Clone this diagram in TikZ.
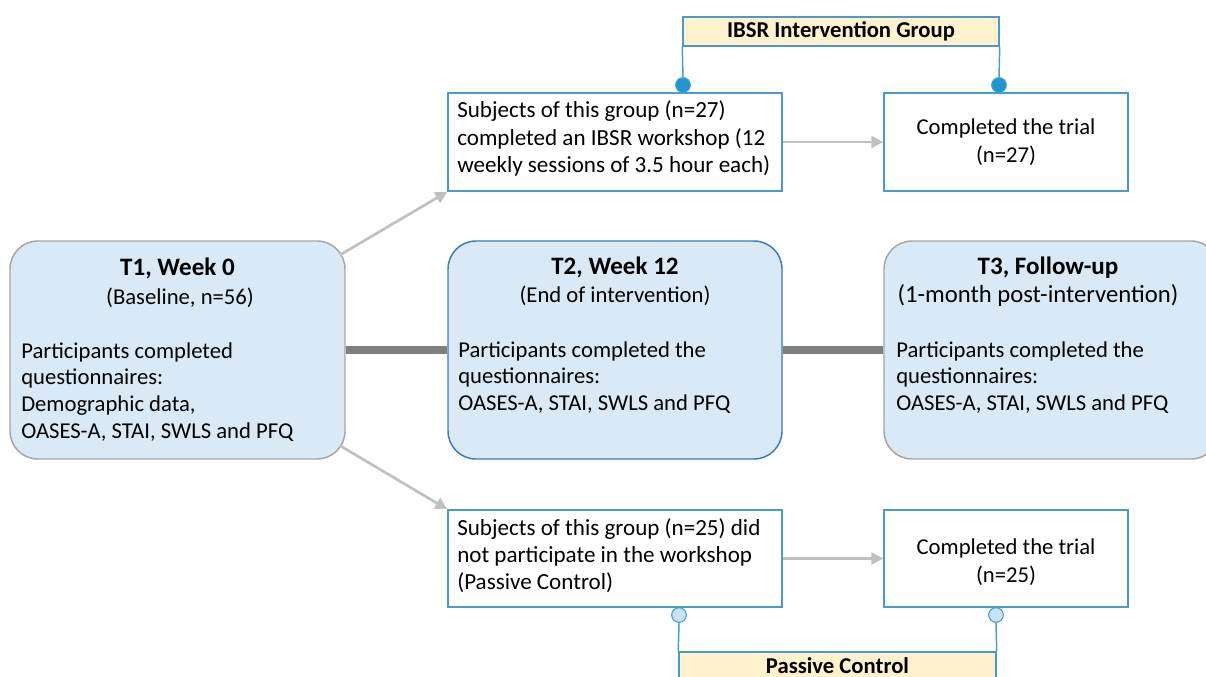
\documentclass[tikz,border=0pt]{standalone}
\usepackage{fontspec}
\setmainfont{Carlito}
\usetikzlibrary{arrows.meta,calc}
\definecolor{boxfill}{HTML}{DAE9F6}
\definecolor{graybd}{HTML}{A6A6A6}
\definecolor{t2bd}{HTML}{3A7DB8}
\definecolor{bluebd}{HTML}{4A9BC9}
\definecolor{hdrfill}{HTML}{FFF2CC}
\definecolor{arrowgray}{HTML}{C0C0C0}
\definecolor{thickgray}{HTML}{7F7F7F}
\definecolor{dotblue}{HTML}{1E96D2}
\definecolor{dotlight}{HTML}{C9E1F5}
\begin{document}
\begin{tikzpicture}[x=0.75pt,y=-0.75pt,
  tbox/.style={draw=graybd, fill=boxfill, line width=1.1pt, rounded corners=21pt, minimum height=163.5pt, inner sep=0pt},
  sbox/.style={draw=bluebd, fill=white, line width=1.1pt, minimum height=73.5pt, inner sep=0pt},
  hbox/.style={draw=bluebd, fill=hdrfill, line width=1.1pt, inner sep=0pt},
  txt/.style={inner sep=0pt, font=\fontsize{17}{20}\selectfont},
  ttl/.style={inner sep=0pt, font=\fontsize{18.8}{22}\selectfont\bfseries},
  hdrt/.style={inner sep=0pt, font=\fontsize{17}{20}\selectfont\bfseries},
  garrow/.style={draw=arrowgray, line width=2pt, -{Triangle[length=9pt,width=9pt]}},
  thick/.style={draw=thickgray, line width=6pt},
  bline/.style={draw=bluebd, line width=1.1pt},
  dotA/.style={circle, draw=bluebd, fill=dotblue, line width=0.8pt, minimum size=11pt, inner sep=0pt},
  dotB/.style={circle, draw=bluebd, fill=dotlight, line width=0.8pt, minimum size=11pt, inner sep=0pt}]
\useasboundingbox (0,0) rectangle (1206,677);

% main time-point boxes
\node[tbox, minimum width=251.25pt] (t1) at (177.5,350) {};
\node[tbox, draw=t2bd, minimum width=250.5pt] (t2) at (615,350) {};
\node[tbox, minimum width=251.25pt] (t3) at (1051.5,350) {};

% group boxes
\node[sbox, minimum width=250.5pt] (a) at (615,142) {};
\node[sbox, minimum width=183pt] (b) at (1006,142) {};
\node[sbox, minimum width=250.5pt, minimum height=72.75pt] (c) at (615,558.5) {};
\node[sbox, minimum width=183pt, minimum height=72.75pt] (d) at (1006,558.5) {};

% headers
\node[hbox, minimum width=237pt, minimum height=21.75pt] (hdr) at (841,31.5) {};
\node[hbox, minimum width=237.75pt, minimum height=36pt] (pc) at (837.5,676) {};

% dots
\node[dotA] (dl) at (683,85) {};
\node[dotA] (dr) at (999,85) {};
\node[dotB] (bl) at (679,615) {};
\node[dotB] (br) at (996,615) {};
\draw[bline] (hdr.south west) -- (dl.north);
\draw[bline] (hdr.south east) -- (dr.north);
\draw[bline] (bl.south) -- (pc.north west);
\draw[bline] (br.south) -- (pc.north east);

% connectors
\draw[thick] (t1.east) -- (t2.west);
\draw[thick] (t2.east) -- (t3.west);
\draw[garrow, shorten <=-5pt] (t1) -- (a.south west);
\draw[garrow, shorten <=-5pt] (t1) -- (c.north west);
\draw[garrow] (a.east) -- (b.west);
\draw[garrow] (c.east) -- (d.west);

% texts
\node[hdrt, anchor=base] (hdrtxt) at (841,38) {IBSR Intervention Group};
\node[hdrt, anchor=base] (pctxt) at (837.5,673) {Passive Control};

\node[ttl, anchor=base] (t1title) at (177.5,276) {T1, Week 0};
\node[txt, anchor=base] (t1sub) at (180,304) {(Baseline, n=56)};
\node[txt, anchor=base west] (t1body) at (21,358) {\parbox[t]{250pt}{\raggedright Participants completed\\questionnaires:\\Demographic data,\\OASES-A, STAI, SWLS and PFQ}};

\node[ttl, anchor=base] (t2title) at (615,275) {T2, Week 12};
\node[txt, anchor=base] (t2sub) at (615,302) {(End of intervention)};
\node[txt, anchor=base west] (t2body) at (458,357) {\parbox[t]{250pt}{\raggedright Participants completed the\\questionnaires:\\OASES-A, STAI, SWLS and PFQ}};

\node[ttl, anchor=base] (t3title) at (1048,275) {T3, Follow-up};
\node[txt, anchor=base, font=\fontsize{18.5}{22}\selectfont] (t3sub) at (1038,302) {(1-month post-intervention)};
\node[txt, anchor=base west] (t3body) at (896,357) {\parbox[t]{250pt}{\raggedright Participants completed the\\questionnaires:\\OASES-A, STAI, SWLS and PFQ}};

\node[txt, anchor=base west] (atxt) at (457,118) {\parbox[t]{250pt}{\raggedright\fontsize{17.3}{20.3}\selectfont Subjects of this group (n=27)\\completed an IBSR workshop (12\\weekly sessions of 3.5 hour each)}};
\node[txt, anchor=base west] (ctxt) at (457,535) {\parbox[t]{250pt}{\raggedright\fontsize{17.3}{20.3}\selectfont Subjects of this group (n=25) did\\not participate in the workshop\\(Passive Control)}};

\node[txt, anchor=base] (btxt1) at (1006,135) {Completed the trial};
\node[txt, anchor=base] (btxt2) at (1006,163) {(n=27)};
\node[txt, anchor=base] (dtxt1) at (1006,554) {Completed the trial};
\node[txt, anchor=base] (dtxt2) at (1006,582) {(n=25)};
\end{tikzpicture}
\end{document}
